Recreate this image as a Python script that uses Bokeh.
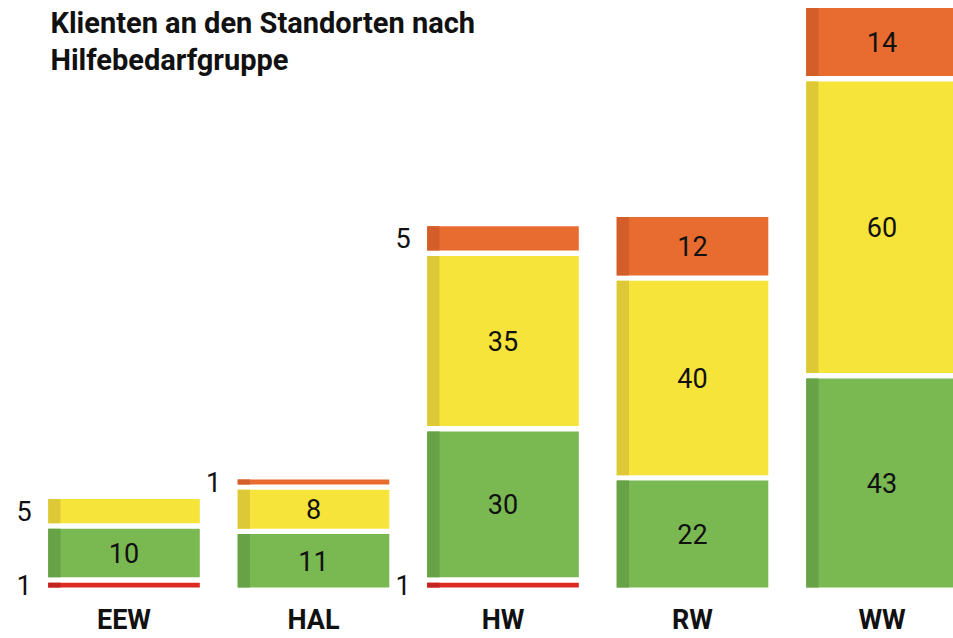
from bokeh.plotting import figure
from bokeh.models import ColumnDataSource, Range1d, Label, FixedTicker
from bokeh.core.properties import value
from bokeh.embed import file_html
from bokeh.resources import INLINE

# ---- data ----
standorte = ["EEW", "HAL", "HW", "RW", "WW"]
rot = [1, 0, 1, 0, 0]
gruen = [10, 11, 30, 22, 43]
gelb = [5, 8, 35, 40, 60]
orange = [0, 1, 5, 12, 14]
title_lines = ["Klienten an den Standorten nach", "Hilfebedarfgruppe"]

# ---- styles ----
groups = [
    (rot, "#dd2a22", "#c22520"),
    (gruen, "#7ab852", "#68a246"),
    (gelb, "#f7e43a", "#ddc938"),
    (orange, "#e86c30", "#d35e2a"),
]
GAP = 1.1          # white gap between stacked segments (data units)
BAR_W = 0.80
STRIP_W = 0.065
OUTSIDE_MAX = 5    # small segments get their label left of the bar

xs, bottoms, tops, fills, darks = [], [], [], [], []
lab_in_x, lab_in_y, lab_in_t = [], [], []
lab_out_x, lab_out_y, lab_out_t = [], [], []
for i, name in enumerate(standorte):
    cum = 0.0
    for vals, col, dark in groups:
        v = vals[i]
        if v <= 0:
            continue
        b, t = cum, cum + v
        xs.append(i); bottoms.append(b); tops.append(t)
        fills.append(col); darks.append(dark)
        mid = (b + t) / 2
        if v <= OUTSIDE_MAX:
            lab_out_x.append(i - BAR_W / 2); lab_out_y.append(mid); lab_out_t.append(str(v))
        else:
            lab_in_x.append(i); lab_in_y.append(mid); lab_in_t.append(str(v))
        cum = t + GAP

src = ColumnDataSource(dict(x=xs, bottom=bottoms, top=tops, fill=fills, dark=darks,
                            sx=[x - BAR_W / 2 + STRIP_W / 2 for x in xs]))

p = figure(width=953, height=638, output_backend="svg", toolbar_location=None,
           x_range=Range1d(-0.6517, 4.3773), y_range=Range1d(-2.464, 120.74),
           min_border=0, min_border_bottom=38)
p.background_fill_color = "white"
p.border_fill_color = "white"
p.outline_line_color = None
p.grid.visible = False
p.yaxis.visible = False

p.vbar(x="x", bottom="bottom", top="top", width=BAR_W, fill_color="fill",
       line_color=None, source=src)
p.vbar(x="sx", bottom="bottom", top="top", width=STRIP_W, fill_color="dark",
       line_color=None, source=src)

p.text(x=lab_in_x, y=lab_in_y, text=lab_in_t, text_align="center", text_baseline="middle",
       text_font=value("Roboto"), text_font_size="27px", text_color="#111111")
p.text(x=lab_out_x, y=lab_out_y, text=lab_out_t, text_align="center", text_baseline="middle",
       x_offset=-24, text_font=value("Roboto"), text_font_size="27px", text_color="#111111")

ax = p.xaxis[0]
ax.ticker = FixedTicker(ticks=list(range(len(standorte))))
ax.major_label_overrides = {i: s for i, s in enumerate(standorte)}
ax.axis_line_color = None
ax.major_tick_line_color = None
ax.minor_tick_line_color = None
ax.major_tick_out = 0
ax.major_tick_in = 0
ax.major_label_standoff = 4
ax.major_label_text_font = "Roboto"
ax.major_label_text_font_style = "bold"
ax.major_label_text_font_size = "27px"
ax.major_label_text_color = "#111111"

for k, line in enumerate(title_lines):
    p.add_layout(Label(x=-0.388, y=116.2 - k * 7.6, text=line, text_font="Roboto",
                       text_font_style="bold", text_font_size="29px",
                       text_color="#111111", text_baseline="alphabetic"))

open("out.html", "w").write(file_html(p, INLINE))
